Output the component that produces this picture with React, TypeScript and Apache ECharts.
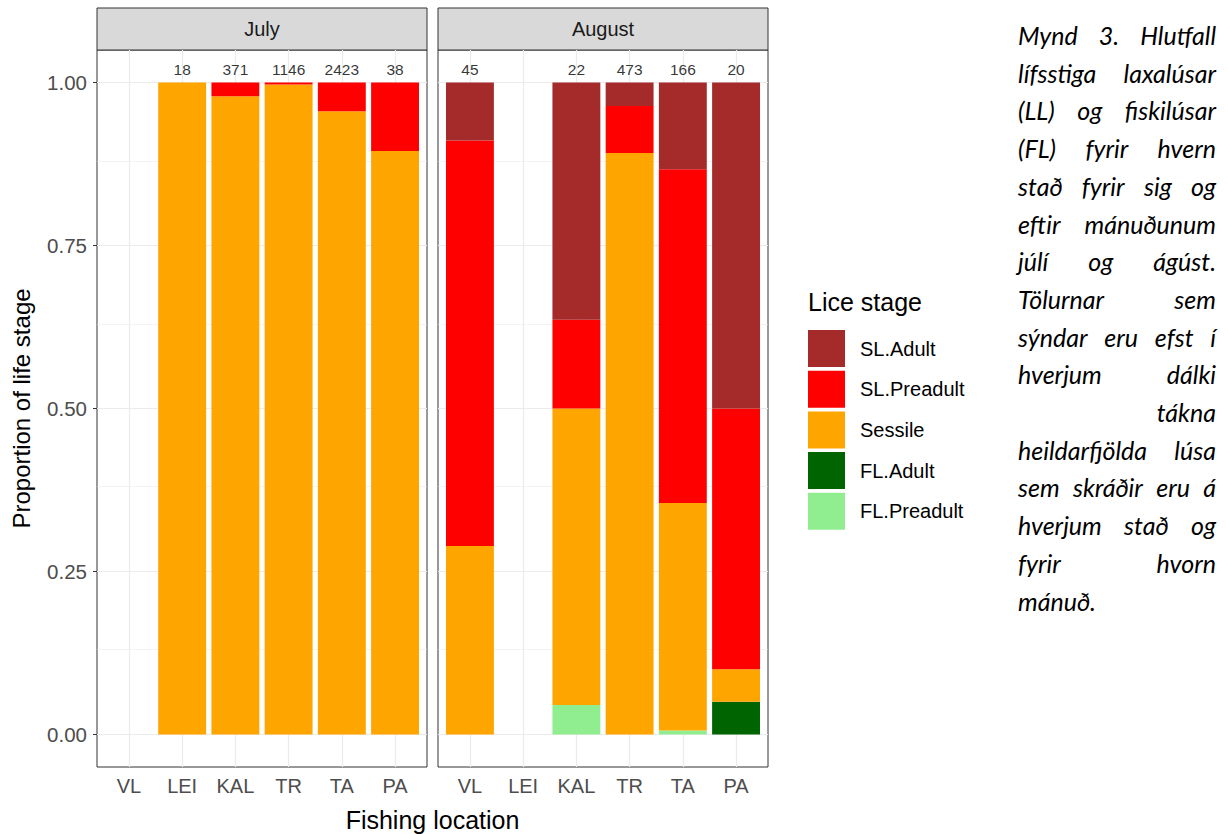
import React, { useEffect, useRef } from 'react';
import * as echarts from 'echarts';

// ---------- data ----------
const locations = ['VL', 'LEI', 'KAL', 'TR', 'TA', 'PA'];
const months = ['July', 'August'];
const stages = ['SL.Adult', 'SL.Preadult', 'Sessile', 'FL.Adult', 'FL.Preadult'];
const stageColors = ['#A52A2A', '#FF0000', '#FFA500', '#006400', '#90EE90'];
const yTicks = [0, 0.25, 0.5, 0.75, 1];
const yMinorTicks = [0.125, 0.375, 0.625, 0.875];

// proportions per location (null = no sample)
const julySLAdult = [null, 0, 0, 0, 0, 0];
const julySLPreadult = [null, 0, 0.021, 0.003, 0.044, 0.105];
const julySessile = [null, 1, 0.979, 0.997, 0.956, 0.895];
const julyFLAdult = [null, 0, 0, 0, 0, 0];
const julyFLPreadult = [null, 0, 0, 0, 0, 0];
const julyTotals = [null, 18, 371, 1146, 2423, 38];

const augSLAdult = [0.089, null, 0.364, 0.036, 0.133, 0.5];
const augSLPreadult = [0.622, null, 0.136, 0.072, 0.512, 0.4];
const augSessile = [0.289, null, 0.455, 0.892, 0.349, 0.05];
const augFLAdult = [0, null, 0, 0, 0, 0.05];
const augFLPreadult = [0, null, 0.045, 0, 0.006, 0];
const augTotals = [45, null, 22, 473, 166, 20];

const captionLines = [
  'Mynd 3. Hlutfall',
  'lífsstiga laxalúsar',
  '(LL) og fiskilúsar',
  '(FL) fyrir hvern',
  'stað fyrir sig og',
  'eftir mánuðunum',
  'júlí og ágúst.',
  'Tölurnar sem',
  'sýndar eru efst í',
  'hverjum dálki',
  'tákna',
  'heildarfjölda lúsa',
  'sem skráðir eru á',
  'hverjum stað og',
  'fyrir hvorn',
  'mánuð.',
];

// ---------- layout ----------
const FONT = "'Liberation Sans', Arial, Helvetica, sans-serif";
const PANEL_LEFT = [97, 438];
const PANEL_W = 330;
const PANEL_TOP = 50;
const PANEL_H = 717;
const STRIP_TOP = 8;
const UNIT_X = PANEL_W / 6.2;
const UNIT_Y = PANEL_H / 1.1;

const CAP_LEFT = 1018;
const CAP_RIGHT = 1216;
const CAP_TOP = 35;
const CAP_STEP = 37.7;
const CAP_SIZE = 25;
const CAP_FAMILY = 'Lato';

function measure(text: string, font: string): number {
  const c = document.createElement('canvas');
  const ctx = c.getContext('2d');
  if (!ctx) return text.length * 10;
  ctx.font = font;
  return ctx.measureText(text).width;
}

function captionGraphics(): any[] {
  const font = `italic ${CAP_SIZE}px ${CAP_FAMILY}`;
  const out: any[] = [];
  const W = CAP_RIGHT - CAP_LEFT;
  captionLines.forEach((line, li) => {
    const y = CAP_TOP + li * CAP_STEP;
    const words = line.split(' ');
    const base = {
      fill: '#000',
      fontStyle: 'italic',
      fontSize: CAP_SIZE,
      fontFamily: CAP_FAMILY,
      textVerticalAlign: 'middle',
    };
    const isLast = li === captionLines.length - 1;
    if (words.length === 1) {
      out.push({
        type: 'text',
        x: isLast ? CAP_LEFT : CAP_RIGHT,
        y,
        style: { ...base, text: words[0], textAlign: isLast ? 'left' : 'right' },
      });
      return;
    }
    const widths = words.map((w) => measure(w, font));
    const sum = widths.reduce((a, b) => a + b, 0);
    const gap = (W - sum) / (words.length - 1);
    let x = CAP_LEFT;
    words.forEach((w, wi) => {
      out.push({ type: 'text', x, y, style: { ...base, text: w, textAlign: 'left' } });
      x += widths[wi] + gap;
    });
  });
  return out;
}

function buildOption(): any {
  const monthData = [
    [julySLAdult, julySLPreadult, julySessile, julyFLAdult, julyFLPreadult],
    [augSLAdult, augSLPreadult, augSessile, augFLAdult, augFLPreadult],
  ];
  const monthTotals = [julyTotals, augTotals];

  const grid: any[] = [];
  const xAxis: any[] = [];
  const yAxis: any[] = [];
  const series: any[] = [];
  const graphic: any[] = [];

  months.forEach((month, m) => {
    const left = PANEL_LEFT[m];
    grid.push({
      left,
      top: PANEL_TOP,
      width: PANEL_W,
      height: PANEL_H,
      show: true,
      borderColor: '#333333',
      borderWidth: 1,
      backgroundColor: 'transparent',
    });
    grid.push({
      left: left + 0.1 * UNIT_X,
      top: PANEL_TOP + 0.05 * UNIT_Y,
      width: 6 * UNIT_X,
      height: UNIT_Y,
    });
    const pIdx = 2 * m;
    const bIdx = 2 * m + 1;
    xAxis.push({ type: 'value', gridIndex: pIdx, min: -0.6, max: 5.6, show: false });
    yAxis.push({ type: 'value', gridIndex: pIdx, min: -0.05, max: 1.05, show: false });
    xAxis.push({
      type: 'category',
      gridIndex: bIdx,
      data: locations,
      boundaryGap: true,
      offset: 0.05 * UNIT_Y,
      axisLine: { show: false },
      axisTick: { show: true, alignWithLabel: true, length: 4, lineStyle: { color: '#333333', width: 1 } },
      axisLabel: { color: '#4D4D4D', fontSize: 20, fontFamily: FONT, margin: 9, interval: 0 },
      splitLine: { show: false },
    });
    yAxis.push({
      type: 'value',
      gridIndex: bIdx,
      min: 0,
      max: 1,
      interval: 0.25,
      show: m === 0,
      offset: 0.1 * UNIT_X,
      axisLine: { show: false },
      axisTick: { show: true, length: 4, lineStyle: { color: '#333333', width: 1 } },
      axisLabel: {
        color: '#4D4D4D',
        fontSize: 20.5,
        fontFamily: FONT,
        margin: 10,
        formatter: (v: number) => v.toFixed(2),
      },
      splitLine: { show: false },
    });

    const ml: any[] = [];
    locations.forEach((_, i) => ml.push({ xAxis: i, lineStyle: { width: 1.2, color: '#EBEBEB', type: 'solid' } }));
    yTicks.forEach((v) => ml.push({ yAxis: v, lineStyle: { width: 1.2, color: '#EBEBEB', type: 'solid' } }));
    yMinorTicks.forEach((v) => ml.push({ yAxis: v, lineStyle: { width: 0.6, color: '#EBEBEB', type: 'solid' } }));
    series.push({
      type: 'line',
      name: 'grid' + m,
      xAxisIndex: pIdx,
      yAxisIndex: pIdx,
      data: [],
      silent: true,
      markLine: {
        silent: true,
        symbol: ['none', 'none'],
        label: { show: false },
        emphasis: { disabled: true },
        data: ml,
      },
    });

    for (let s = stages.length - 1; s >= 0; s--) {
      series.push({
        type: 'bar',
        name: stages[s],
        xAxisIndex: bIdx,
        yAxisIndex: bIdx,
        stack: 'stack' + m,
        barWidth: '90%',
        z: 10,
        silent: true,
        itemStyle: { color: stageColors[s] },
        emphasis: { disabled: true },
        data: monthData[m][s].map((v) => (v == null ? '-' : v)),
      });
    }

    const totals = monthTotals[m];
    series.push({
      type: 'scatter',
      name: 'n' + m,
      xAxisIndex: bIdx,
      yAxisIndex: bIdx,
      symbolSize: 1,
      z: 11,
      silent: true,
      itemStyle: { color: 'rgba(0,0,0,0)' },
      label: {
        show: true,
        position: 'top',
        distance: 5,
        color: '#000',
        fontSize: 15.5,
        fontFamily: FONT,
        formatter: (p: any) => String(p.value[2]),
      },
      data: totals
        .map((t, i) => (t == null ? null : [i, 1, t]))
        .filter((d) => d != null),
    });

    graphic.push({
      type: 'rect',
      shape: { x: left, y: STRIP_TOP, width: PANEL_W, height: PANEL_TOP - STRIP_TOP },
      style: { fill: '#D9D9D9', stroke: '#333333', lineWidth: 1 },
      silent: true,
    });
    graphic.push({
      type: 'text',
      x: left + PANEL_W / 2,
      y: (STRIP_TOP + PANEL_TOP) / 2,
      style: {
        text: month,
        fill: '#1A1A1A',
        fontSize: 20,
        fontFamily: FONT,
        textAlign: 'center',
        textVerticalAlign: 'middle',
      },
      silent: true,
    });
  });

  graphic.push({
    type: 'text',
    x: 21,
    y: PANEL_TOP + PANEL_H / 2,
    rotation: Math.PI / 2,
    style: {
      text: 'Proportion of life stage',
      fill: '#000',
      fontSize: 24,
      fontFamily: FONT,
      textAlign: 'center',
      textVerticalAlign: 'middle',
    },
    silent: true,
  });
  graphic.push({
    type: 'text',
    x: (PANEL_LEFT[0] + PANEL_LEFT[1] + PANEL_W) / 2,
    y: 820,
    style: {
      text: 'Fishing location',
      fill: '#000',
      fontSize: 25,
      fontFamily: FONT,
      textAlign: 'center',
      textVerticalAlign: 'middle',
    },
    silent: true,
  });
  graphic.push({
    type: 'text',
    x: 808,
    y: 302,
    style: {
      text: 'Lice stage',
      fill: '#000',
      fontSize: 25,
      fontFamily: FONT,
      textAlign: 'left',
      textVerticalAlign: 'middle',
    },
    silent: true,
  });

  captionGraphics().forEach((g) => graphic.push({ ...g, silent: true }));

  return {
    animation: false,
    backgroundColor: '#FFFFFF',
    textStyle: { fontFamily: FONT },
    grid,
    xAxis,
    yAxis,
    series,
    legend: {
      data: stages,
      orient: 'vertical',
      left: 808,
      top: 330,
      padding: 0,
      itemWidth: 37,
      itemHeight: 37,
      itemGap: 3.7,
      icon: 'rect',
      selectedMode: false,
      textStyle: { color: '#000', fontSize: 20, fontFamily: FONT, padding: [0, 0, 0, 10] },
    },
    graphic,
  };
}

export default function App() {
  const ref = useRef<HTMLDivElement>(null);
  useEffect(() => {
    document.body.style.margin = '0';
    if (!ref.current) return;
    const chart = echarts.init(ref.current, null, { renderer: 'svg' });
    chart.setOption(buildOption());
    return () => chart.dispose();
  }, []);
  return <div ref={ref} style={{ width: 1228, height: 834 }} />;
}
